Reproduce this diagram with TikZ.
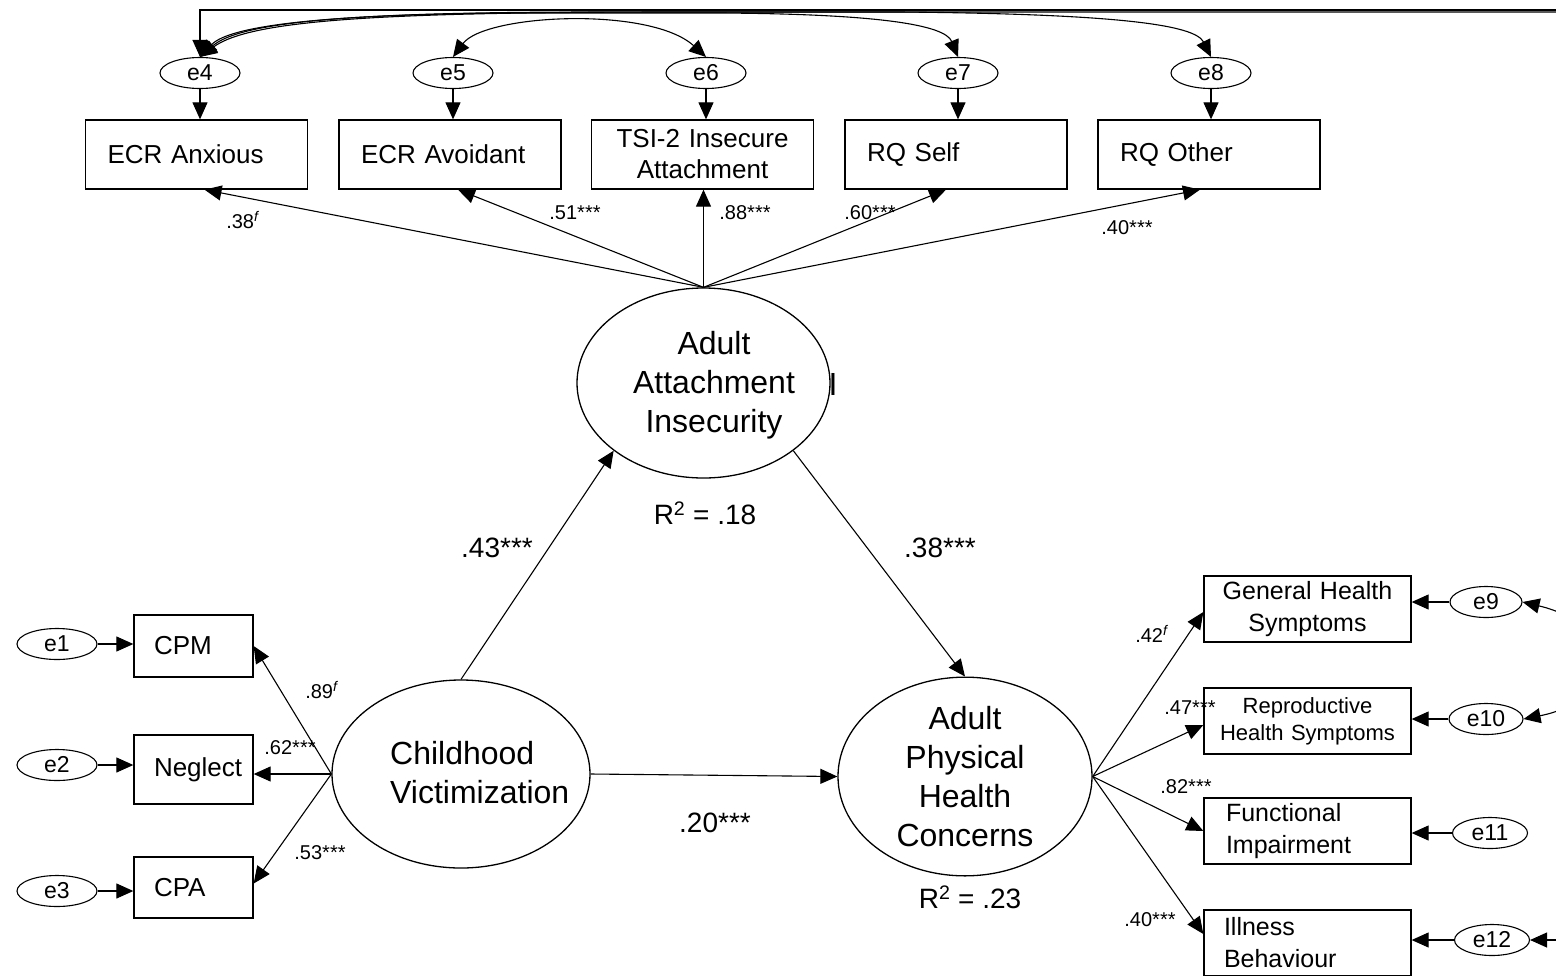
\documentclass[tikz,border=0pt]{standalone}
\usepackage{fontspec}
\setmainfont{Liberation Sans}
\usetikzlibrary{arrows.meta,shapes.geometric,calc}
\newcommand\bxf{\fontsize{26pt}{31pt}\selectfont}
\newcommand\rbf{\fontsize{25pt}{32pt}\selectfont}
\newcommand\rsf{\fontsize{22pt}{27pt}\selectfont}
\newcommand\ltf{\fontsize{32pt}{39pt}\selectfont}
\newcommand\cff{\fontsize{20pt}{24pt}\selectfont}
\newcommand\mdf{\fontsize{28pt}{32pt}\selectfont}
\newcommand\rtf{\fontsize{28pt}{32pt}\selectfont}
\newcommand\erf{\fontsize{23pt}{26pt}\selectfont}
\newcommand\fx{\textsuperscript{\textit{f}}}
\begin{document}
\begin{tikzpicture}[x=1pt,y=-1pt,
  arr/.style={-{Triangle[length=17pt,width=15pt]}, line width=1.1pt},
  cov/.style={{Triangle[length=17pt,width=15pt]}-{Triangle[length=17pt,width=15pt]}, line width=1.1pt},
  covs/.style={{Triangle[length=17pt,width=15pt]}-, line width=1.1pt},
  box/.style={draw, rectangle, line width=1.3pt, inner ysep=0pt},
  topbox/.style={box, minimum height=69pt, text width=178pt, inner xsep=22pt, align=left, font=\bxf},
  leftbox/.style={box, text width=79pt, inner xsep=20pt, align=left, font=\bxf},
  rbox/.style={box, minimum height=66pt, text width=187pt, inner xsep=10pt, font=\rbf},
  err/.style={draw, ellipse, line width=1.1pt, minimum width=80pt, minimum height=31pt, inner sep=0pt, font=\erf},
  lat/.style={draw, ellipse, line width=1.3pt, inner sep=0pt},
  lbl/.style={inner sep=0pt, font=\cff},
  mlbl/.style={inner sep=0pt, font=\mdf},
  rlbl/.style={inner sep=0pt, font=\rtf},
]
\useasboundingbox (0,0) rectangle (1556,975);
\clip (0,0) rectangle (1556,975);

% ---------- top indicators ----------
\node[err] (e4) at (200,73) {e4};
\node[err] (e5) at (453,73) {e5};
\node[err] (e6) at (706,73) {e6};
\node[err] (e7) at (958,73) {e7};
\node[err] (e8) at (1211,73) {e8};
\node[topbox] (ecra) at (196.5,154.5) {ECR Anxious};
\node[topbox] (ecrv) at (450,154.5) {ECR Avoidant};
\node[topbox, align=center] (tsi) at (702.5,154.5) {TSI-2 Insecure\\Attachment};
\node[topbox] (rqs) at (956,154.5) {RQ Self};
\node[topbox] (rqo) at (1209,154.5) {RQ Other};
\draw[arr] (e4.south) -- (e4.south |- ecra.north);
\draw[arr] (e5.south) -- (e5.south |- ecrv.north);
\draw[arr] (e6.south) -- (e6.south |- tsi.north);
\draw[arr] (e7.south) -- (e7.south |- rqs.north);
\draw[arr] (e8.south) -- (e8.south |- rqo.north);

% covariance curves along the top
\coordinate (topr) at (1570,10);
\coordinate (topr2) at (1570,12);
\draw[arr] (topr) -| (e4.north);
\draw[covs] (e4.north) .. controls (250,20) and (380,12) .. (680,12) -- (topr2);
\draw[cov] (e4.north) .. controls (230,25) and (330,14) .. (520,13) -- (720,13) .. controls (880,14) and (945,25) .. (e7.north);
\draw[cov] (e4.north) .. controls (240,22) and (350,12) .. (600,12) -- (900,12) .. controls (1120,14) and (1195,25) .. (e8.north);
\draw[cov] (e5.north) .. controls (485,14) and (650,6) .. (e6.north);

% ---------- latent variables ----------
\node[lat, minimum width=253pt, minimum height=190pt] (aai) at (703.5,383) {};
\node[inner sep=0pt, align=center, font=\ltf] (aait) at (714,385) {Adult\\Attachment\\Insecurity};
\node[inner sep=0pt, font=\ltf] (bar) at (833,384) {I};
\node[lat, minimum width=258pt, minimum height=188pt] (cv) at (461,774) {};
\node[anchor=west, inner sep=0pt, align=left, font=\ltf] (cvt) at (390,772.5) {Childhood\\Victimization};
\node[lat, minimum width=254pt, minimum height=177pt, align=center, font=\ltf] (aphc) at (965,776.5) {Adult\\Physical\\Health\\Concerns};

\draw[arr] (aai.north) -- ([xshift=8pt]ecra.south);
\draw[arr] (aai.north) -- ([xshift=8pt]ecrv.south);
\draw[arr] (aai.north) -- (aai.north |- tsi.south);
\draw[arr] (aai.north) -- ([xshift=-10pt]rqs.south);
\draw[arr] (aai.north) -- ([xshift=-9pt]rqo.south);

\draw[arr] (cv.north) -- (aai.217);
\draw[arr] (aai.323) -- (aphc.north);
\draw[arr] (cv.east) -- (aphc.west);

% ---------- left indicators ----------
\node[err] (e1) at (57,644) {e1};
\node[err] (e2) at (57,765) {e2};
\node[err] (e3) at (57,891) {e3};
\node[leftbox, minimum height=62pt] (cpm) at (193.5,646) {CPM};
\node[leftbox, minimum height=69pt] (neg) at (193.5,769.5) {Neglect};
\node[leftbox, minimum height=61pt] (cpa) at (193.5,887.5) {CPA};
\draw[arr] (e1.east) -- (e1.east -| cpm.west);
\draw[arr] (e2.east) -- (e2.east -| neg.west);
\draw[arr] (e3.east) -- (e3.east -| cpa.west);
\draw[arr] (cv.west) -- (cpm.east);
\draw[arr] (cv.west) -- (cv.west -| neg.east);
\draw[arr] (cv.west) -- ([yshift=4pt]cpa.east);

% ---------- right indicators ----------
\node[rbox, align=center] (ghs) at (1307.5,609) {General Health\\Symptoms};
\node[rbox, align=center, font=\rsf] (rhs) at (1307.5,721) {Reproductive\\Health Symptoms};
\node[rbox, align=left, text width=163pt, inner xsep=22pt] (fi) at (1307.5,831) {Functional\\Impairment};
\node[rbox, align=left, text width=167pt, inner xsep=20pt] (ib) at (1307.5,943) {Illness\\Behaviour};
\node[err, minimum width=72pt] (e9) at (1486,602) {e9};
\node[err, minimum width=74pt] (e10) at (1486,719) {e10};
\node[err, minimum width=75pt] (e11) at (1490,833) {e11};
\node[err, minimum width=75pt] (e12) at (1492,940) {e12};
\draw[arr] (e9.west) -- (e9.west -| ghs.east);
\draw[arr] (e10.west) -- (e10.west -| rhs.east);
\draw[arr] (e11.west) -- (e11.west -| fi.east);
\draw[arr] (e12.west) -- (e12.west -| ib.east);
\draw[arr] (aphc.east) -- ([yshift=-3pt]ghs.west);
\draw[arr] (aphc.east) -- ([yshift=-4pt]rhs.west);
\draw[arr] (aphc.east) -- (fi.west);
\draw[arr] (aphc.east) -- ([yshift=9pt]ib.west);
\draw[cov] (e9.east) .. controls (1620,625) and (1620,700) .. (e10.east);
\coordinate (rr) at (1570,940);
\draw[arr] (rr) -- (e12.east);

% ---------- labels ----------
\node[lbl] (l1) at (243,220) {.38\fx};
\node[lbl] (l2) at (575,213) {.51***};
\node[lbl] (l3) at (745,213) {.88***};
\node[lbl] (l4) at (870,213) {.60***};
\node[lbl] (l5) at (1127,228) {.40***};
\node[lbl] (l6) at (322,690) {.89\fx};
\node[lbl] (l7) at (290,748) {.62***};
\node[lbl] (l8) at (320,853) {.53***};
\node[lbl] (l9) at (1152,634) {.42\fx};
\node[lbl] (l10) at (1190,708) {.47***};
\node[lbl] (l11) at (1186,787) {.82***};
\node[lbl] (l12) at (1150,920) {.40***};
\node[mlbl] (m1) at (497,548) {.43***};
\node[mlbl] (m2) at (940,548) {.38***};
\node[mlbl] (m3) at (715,823) {.20***};
\node[rlbl] (r1) at (705,513) {R\textsuperscript{2} = .18};
\node[rlbl] (r2) at (970,897) {R\textsuperscript{2} = .23};
\end{tikzpicture}
\end{document}
